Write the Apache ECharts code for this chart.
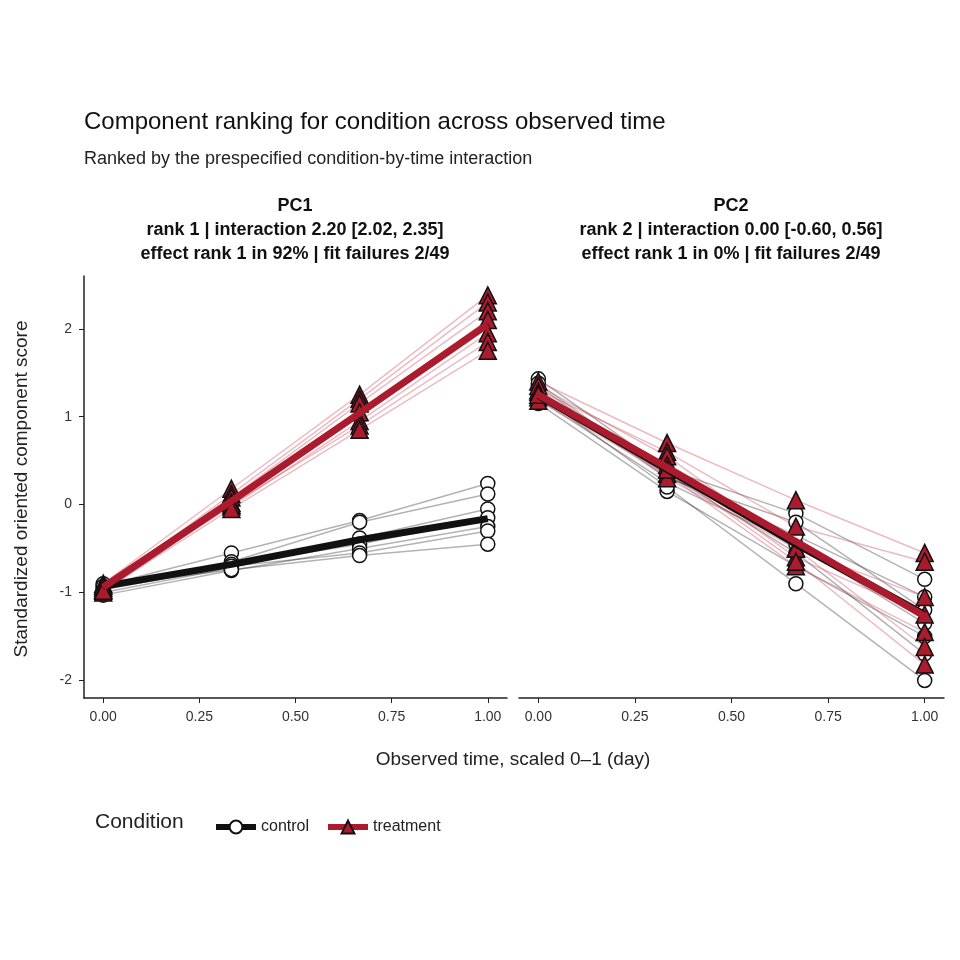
<!DOCTYPE html>
<html><head><meta charset="utf-8">
<script src="https://cdn.jsdelivr.net/npm/echarts@6/dist/echarts.min.js"></script>
<style>html,body{margin:0;background:#fff}#c{width:960px;height:960px}</style>
</head><body><div id="c"></div>
<script>
var times = [0, 1/3, 2/3, 1];
var xTicks = [0, 0.25, 0.5, 0.75, 1];
var yTicks = [-2, -1, 0, 1, 2];

// per-subject scores, [t0, t1/3, t2/3, t1]
var pc1Control = [
  [-0.92, -0.55, -0.18, 0.24], [-0.95, -0.65, -0.20, 0.12], [-1.00, -0.72, -0.38, -0.05],
  [-0.90, -0.68, -0.45, -0.15], [-1.03, -0.75, -0.50, -0.25], [-0.97, -0.70, -0.55, -0.30],
  [-0.93, -0.74, -0.58, -0.45]
];
var pc1Treat = [
  [-0.90, 0.18, 1.25, 2.38], [-0.95, 0.12, 1.20, 2.30], [-0.92, 0.08, 1.15, 2.20],
  [-1.00, 0.02, 1.05, 2.10], [-0.93, -0.02, 0.95, 1.95], [-0.97, 0.00, 0.90, 1.85],
  [-0.98, -0.05, 0.85, 1.75]
];
var pc2Control = [
  [1.43, 0.40, -0.10, -0.85], [1.35, 0.30, -0.20, -1.20], [1.20, 0.25, -0.45, -1.35],
  [1.15, 0.15, -0.70, -1.50], [1.30, 0.35, -0.55, -1.70], [1.25, 0.20, -0.90, -2.00],
  [1.38, 0.32, -0.35, -1.05]
];
var pc2Treat = [
  [1.40, 0.70, 0.05, -0.55], [1.30, 0.60, -0.25, -0.65], [1.35, 0.55, -0.50, -1.05],
  [1.22, 0.45, -0.60, -1.25], [1.18, 0.35, -0.70, -1.45], [1.28, 0.30, -0.50, -1.62],
  [1.25, 0.40, -0.65, -1.82]
];
var pc1ControlMean = [-0.93, -0.68, -0.40, -0.16];
var pc1TreatMean = [-0.94, 0.04, 1.04, 2.05];
var pc2ControlMean = [1.24, 0.40, -0.45, -1.25];
var pc2TreatMean = [1.25, 0.42, -0.42, -1.27];

var red = '#ab1a2d', black = '#111111';

function pairs(vals) { return vals.map(function (v, i) { return [times[i], v]; }); }

var series = [];
function addPanel(idx, ctrl, trt, ctrlMean, trtMean) {
  ctrl.forEach(function (s) {
    series.push({type: 'line', xAxisIndex: idx, yAxisIndex: idx, data: pairs(s), silent: true,
      lineStyle: {color: 'rgba(0,0,0,0.3)', width: 1.5}, symbol: 'circle', symbolSize: 14,
      itemStyle: {color: '#fff', borderColor: black, borderWidth: 1.5}, z: 3});
  });
  trt.forEach(function (s) {
    series.push({type: 'line', xAxisIndex: idx, yAxisIndex: idx, data: pairs(s), silent: true,
      lineStyle: {color: 'rgba(200,60,80,0.35)', width: 1.5}, symbol: 'triangle', symbolSize: 17,
      itemStyle: {color: red, borderColor: black, borderWidth: 1.5}, z: 4});
  });
  series.push({type: 'line', xAxisIndex: idx, yAxisIndex: idx, data: pairs(ctrlMean), symbol: 'none',
    lineStyle: {color: black, width: 7}, z: 5});
  series.push({type: 'line', xAxisIndex: idx, yAxisIndex: idx, data: pairs(trtMean), symbol: 'none',
    lineStyle: {color: red, width: 7}, z: 6});
}
addPanel(0, pc1Control, pc1Treat, pc1ControlMean, pc1TreatMean);
addPanel(1, pc2Control, pc2Treat, pc2ControlMean, pc2TreatMean);
// legend-only series
series.push({name: 'control', type: 'line', data: [], symbol: 'circle', symbolSize: 14,
  lineStyle: {color: black, width: 6}, itemStyle: {color: '#fff', borderColor: black, borderWidth: 2}});
series.push({name: 'treatment', type: 'line', data: [], symbol: 'triangle', symbolSize: 17,
  lineStyle: {color: red, width: 6}, itemStyle: {color: red, borderColor: black, borderWidth: 1.5}});

function xAxis(idx) {
  return {type: 'value', gridIndex: idx, min: -0.05, max: 1.05,
    axisLine: {onZero: false, lineStyle: {color: '#222', width: 1.5}},
    axisTick: {customValues: xTicks, length: 5, lineStyle: {color: '#222'}},
    axisLabel: {customValues: xTicks, color: '#333', fontSize: 14, margin: 12,
      formatter: function (v) { return v.toFixed(2); }},
    splitLine: {show: false}};
}
function yAxis(idx) {
  return {type: 'value', gridIndex: idx, min: -2.2, max: 2.6, show: idx === 0,
    axisLine: {show: true, onZero: false, lineStyle: {color: '#222', width: 1.5}},
    axisTick: {show: true, customValues: yTicks, length: 5, lineStyle: {color: '#222'}},
    axisLabel: {customValues: yTicks, color: '#333', fontSize: 14, margin: 12},
    splitLine: {show: false}};
}

var font = '"Liberation Sans", Arial, sans-serif';
var facet1 = 'PC1\nrank 1 | interaction 2.20 [2.02, 2.35]\neffect rank 1 in 92% | fit failures 2/49';
var facet2 = 'PC2\nrank 2 | interaction 0.00 [-0.60, 0.56]\neffect rank 1 in 0% | fit failures 2/49';

var chart = echarts.init(document.getElementById('c'));
chart.setOption({
  backgroundColor: '#fff',
  animation: false,
  textStyle: {fontFamily: font},
  grid: [
    {left: 84, width: 423, top: 276, height: 422},
    {left: 519, width: 425, top: 276, height: 422}
  ],
  xAxis: [xAxis(0), xAxis(1)],
  yAxis: [yAxis(0), yAxis(1)],
  legend: {left: 208, top: 814, itemWidth: 40, itemHeight: 16, itemGap: 16,
    lineStyle: {width: 6}, textStyle: {fontSize: 16, color: '#222', fontFamily: font},
    data: ['control', 'treatment']},
  graphic: [
    {type: 'text', left: 84, top: 110, style: {text: 'Component ranking for condition across observed time', font: '24px ' + font, fill: '#111'}},
    {type: 'text', left: 84, top: 150, style: {text: 'Ranked by the prespecified condition-by-time interaction', font: '18px ' + font, fill: '#222'}},
    {type: 'text', x: 295, y: 194, style: {text: facet1, font: 'bold 18px ' + font, fill: '#111', align: 'center', lineHeight: 24}},
    {type: 'text', x: 731, y: 194, style: {text: facet2, font: 'bold 18px ' + font, fill: '#111', align: 'center', lineHeight: 24}},
    {type: 'text', x: 513, y: 750, style: {text: 'Observed time, scaled 0–1 (day)', font: '19px ' + font, fill: '#222', align: 'center'}},
    {type: 'text', x: 22, y: 489, rotation: Math.PI / 2, style: {text: 'Standardized oriented component score', font: '19px ' + font, fill: '#222', align: 'center', verticalAlign: 'middle'}},
    {type: 'text', left: 95, top: 812, style: {text: 'Condition', font: '21px ' + font, fill: '#222'}}
  ],
  series: series
});
</script></body></html>
